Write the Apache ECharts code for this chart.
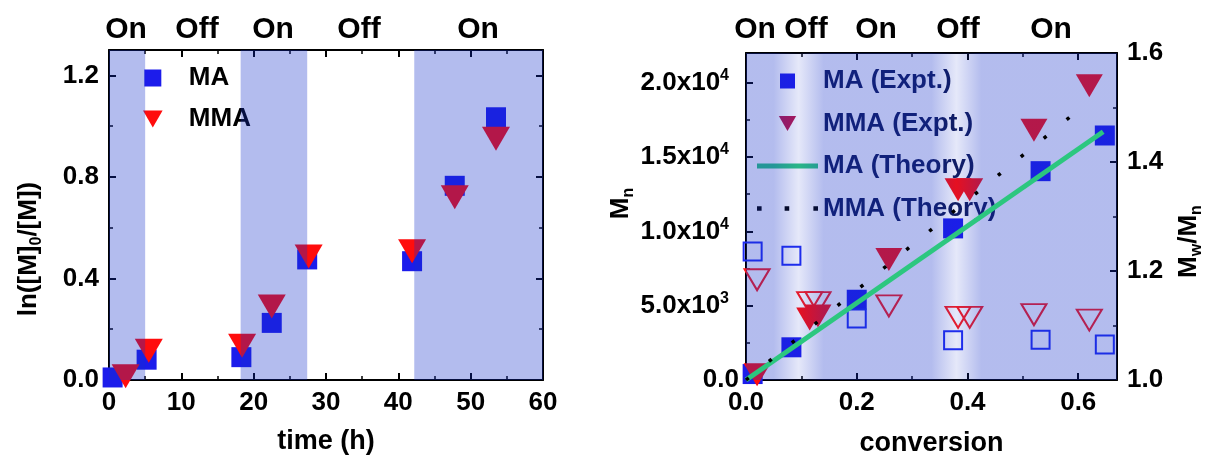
<!DOCTYPE html>
<html>
<head>
<meta charset="utf-8">
<title>ln([M]0/[M]) vs time and Mn vs conversion</title>
<script src="https://cdn.jsdelivr.net/npm/echarts@6/dist/echarts.min.js"></script>
<style>
  html, body { margin: 0; padding: 0; background: #fff; }
  #chart { width: 1213px; height: 462px; }
</style>
</head>
<body>
<div id="chart"></div>
<script>
// ---- left panel: ln([M]0/[M]) vs time (h)
const timeMA = [0.5, 5.2, 18.3, 22.5, 27.4, 41.9, 47.8, 53.5];
const lnMA = [0.01, 0.08, 0.09, 0.225, 0.475, 0.468, 0.765, 1.035];
const timeMMA = [2.3, 5.5, 18.4, 22.5, 27.6, 41.9, 47.8, 53.5];
const lnMMA = [0.015, 0.115, 0.135, 0.29, 0.487, 0.507, 0.72, 0.95];
const onPeriods = [[0, 5], [18.2, 27.4], [42.2, 60]];

// ---- right panel: Mn and Mw/Mn vs conversion
const convMA = [0.012, 0.082, 0.2, 0.374, 0.532, 0.648];
const mnMA = [400, 2200, 5400, 10200, 14050, 16450];
const pdiMA = [1.236, 1.228, 1.113, 1.073, 1.074, 1.065];
const convMMA = [0.02, 0.115, 0.13, 0.258, 0.383, 0.404, 0.52, 0.62];
const mnMMA = [350, 4100, 4300, 8100, 12800, 12800, 16800, 19800];
const pdiMMA = [1.184, 1.142, 1.142, 1.136, 1.115, 1.115, 1.12, 1.11];
const theoryMA = [[0, 0], [0.645, 16700]];
const theoryMMA = [[0, 0], [0.615, 18600]];
const offStripes = [0.095, 0.38]; // centres of the lighter "off" bands

// axis ranges
const timeMax = 60, lnMax = 1.3;
const convMax = 0.67, mnMax = 22000, pdiMin = 1.0, pdiMax = 1.6;

const topLabels = ['On', 'Off', 'On', 'Off', 'On'];
const topLabelX = [126, 197, 273, 359, 478, 755, 806, 876, 958, 1051];

const FONT = 'Liberation Sans';
const shade = 'rgba(20, 47, 202, 0.32)';
const triPath = 'path://M0,0 L10,0 L5,8.66 Z';
const sqPath = 'path://M0,0 L10,0 L10,10 L0,10 Z';
const barPath = 'path://M0,0 L61,0 L61,5 L0,5 Z';
const dotsPath = 'path://M0,0h4v4h-4z M24,0h4v4h-4z M49,0h4v4h-4z';

function onGrid(v, step) {
  return Math.abs(v / step - Math.round(v / step)) < 1e-6;
}

function sci(v) {
  if (v === 0) return '0.0';
  const e = Math.floor(Math.log10(v) + 1e-9);
  return '{n|' + (v / Math.pow(10, e)).toFixed(1) + 'x10}{p|' + e + '}';
}

const labelStyle = {
  color: '#000', fontFamily: FONT, fontWeight: 'bold', fontSize: 26,
};

function axis(extra, showLabel) {
  return Object.assign({
    type: 'value',
    axisLine: { show: true, onZero: false, lineStyle: { color: '#000', width: 2 } },
    axisTick: { show: true, inside: true, length: 7, lineStyle: { color: '#000', width: 2 } },
    minorTick: { show: true, splitNumber: 2, length: 4, lineStyle: { color: '#000', width: 1.5 } },
    splitLine: { show: false },
    axisLabel: Object.assign({ show: showLabel, margin: 10 }, labelStyle),
  }, extra);
}

const bandGradient = (() => {
  const stops = [{ offset: 0, color: shade }];
  offStripes.forEach((c) => {
    stops.push({ offset: (c - 0.045) / convMax, color: shade });
    stops.push({ offset: c / convMax, color: 'rgba(20, 47, 202, 0.11)' });
    stops.push({ offset: (c + 0.045) / convMax, color: shade });
  });
  stops.push({ offset: 1, color: shade });
  return new echarts.graphic.LinearGradient(0, 0, 1, 0, stops);
})();

const chart = echarts.init(document.getElementById('chart'));

const option = {
  animation: false,
  backgroundColor: '#fff',
  grid: [
    { left: 109, right: 670, top: 50, bottom: 82 },
    { left: 746, right: 96, top: 53, bottom: 79 },
  ],
  xAxis: [
    axis({
      gridIndex: 0, min: 0, max: timeMax, interval: 10,
      name: 'time (h)', nameLocation: 'middle', nameGap: 48,
      nameTextStyle: Object.assign({}, labelStyle, { fontSize: 27 }),
    }, true),
    axis({ gridIndex: 0, position: 'top', min: 0, max: timeMax, interval: 10 }, false),
    axis({
      gridIndex: 1, min: 0, max: convMax, interval: 0.2,
      name: 'conversion', nameLocation: 'middle', nameGap: 50,
      nameTextStyle: Object.assign({}, labelStyle, { fontSize: 27 }),
      axisLabel: Object.assign({ margin: 10, formatter: (v) => (onGrid(v, 0.2) ? v.toFixed(1) : '') }, labelStyle),
    }, true),
    axis({ gridIndex: 1, position: 'top', min: 0, max: convMax, interval: 0.2 }, false),
  ],
  yAxis: [
    axis({
      gridIndex: 0, min: 0, max: lnMax, interval: 0.4,
      name: '{t|ln([M]}{s|0}{t|/[M])}', nameLocation: 'middle', nameGap: 64,
      nameTextStyle: {
        padding: [0, 68, 0, 0],
        rich: {
          t: Object.assign({}, labelStyle, { fontSize: 26, lineHeight: 32 }),
          s: Object.assign({}, labelStyle, { fontSize: 16, lineHeight: 10, verticalAlign: 'bottom' }),
        },
      },
      axisLabel: Object.assign({ margin: 10, formatter: (v) => (onGrid(v, 0.4) ? v.toFixed(1) : '') }, labelStyle),
    }, true),
    axis({ gridIndex: 0, position: 'right', min: 0, max: lnMax, interval: 0.4 }, false),
    axis({
      gridIndex: 1, min: 0, max: mnMax, interval: 5000,
      name: '{t|M}{s|n}', nameLocation: 'middle', nameGap: 108,
      nameTextStyle: {
        padding: [0, 0, 0, 26],
        rich: {
          t: Object.assign({}, labelStyle, { fontSize: 26, lineHeight: 32 }),
          s: Object.assign({}, labelStyle, { fontSize: 16, lineHeight: 10, verticalAlign: 'bottom' }),
        },
      },
      axisLabel: Object.assign({
        margin: 7,
        formatter: (v) => (onGrid(v, 5000) ? sci(v) : ''),
        rich: {
          n: Object.assign({}, labelStyle, { lineHeight: 30 }),
          p: Object.assign({}, labelStyle, { fontSize: 16, lineHeight: 16, verticalAlign: 'top', padding: [0, 10, 0, 0] }),
        },
      }, labelStyle),
    }, true),
    axis({
      gridIndex: 1, position: 'right', min: pdiMin, max: pdiMax, interval: 0.2,
      name: '{t|M}{s|w}{t|/M}{s|n}', nameLocation: 'middle', nameGap: 56,
      nameTextStyle: {
        padding: [0, 50, 0, 0],
        rich: {
          t: Object.assign({}, labelStyle, { fontSize: 26, lineHeight: 32 }),
          s: Object.assign({}, labelStyle, { fontSize: 16, lineHeight: 10, verticalAlign: 'bottom' }),
        },
      },
      axisLabel: Object.assign({ margin: 10, formatter: (v) => v.toFixed(1) }, labelStyle),
    }, true),
  ],
  legend: [
    {
      left: 138, top: 60, orient: 'vertical',
      itemWidth: 22, itemHeight: 17, itemGap: 15,
      data: [
        { name: 'MA', icon: sqPath },
        { name: 'MMA', icon: triPath },
      ],
      textStyle: Object.assign({}, labelStyle, { padding: [0, 0, 0, 20] }),
    },
    {
      left: 752, top: 63, orient: 'vertical',
      itemWidth: 61, itemHeight: 15, itemGap: 16.5,
      data: [
        { name: 'MA (Expt.)', icon: sqPath },
        { name: 'MMA (Expt.)', icon: triPath, itemStyle: { color: '#b8154c' } },
        { name: 'MA (Theory)', icon: barPath },
        { name: 'MMA (Theory)', icon: dotsPath },
      ],
      textStyle: Object.assign({}, labelStyle, { color: '#0f1a56' }),
    },
  ],
  graphic: topLabels.concat(topLabels).map((t, i) => ({
    type: 'text',
    style: {
      text: t, x: topLabelX[i], y: 30,
      font: 'bold 30px "' + FONT + '"',
      textAlign: 'center', textVerticalAlign: 'middle', fill: '#000',
    },
  })),
  series: [
    // left panel
    {
      name: 'MA', type: 'scatter', xAxisIndex: 0, yAxisIndex: 0, z: 2,
      symbol: 'rect', symbolSize: 20,
      itemStyle: { color: '#1c1ceb', opacity: 1 },
      data: timeMA.map((t, i) => [t, lnMA[i]]),
    },
    {
      name: 'MMA', type: 'scatter', xAxisIndex: 0, yAxisIndex: 0, z: 3,
      symbol: triPath, symbolSize: [28, 24],
      itemStyle: { color: '#ff0d0d', opacity: 1 },
      data: timeMMA.map((t, i) => [t, lnMMA[i]]),
    },
    {
      name: 'onShade', type: 'scatter', xAxisIndex: 0, yAxisIndex: 0, z: 4,
      silent: true, data: [],
      markArea: {
        z: 4,
        silent: true,
        itemStyle: { color: shade },
        data: onPeriods.map((p) => [{ xAxis: p[0] }, { xAxis: p[1] }]),
      },
    },
    // right panel
    {
      name: 'MA (Expt.)', type: 'scatter', xAxisIndex: 2, yAxisIndex: 2, z: 2,
      symbol: 'rect', symbolSize: 20,
      itemStyle: { color: '#1c1ceb', opacity: 1 },
      data: convMA.map((c, i) => [c, mnMA[i]]),
    },
    {
      name: 'MA PDI', type: 'scatter', xAxisIndex: 2, yAxisIndex: 3, z: 2,
      symbol: 'rect', symbolSize: 18,
      itemStyle: { color: 'none', borderColor: '#1f2cf2', borderWidth: 2, opacity: 1 },
      data: convMA.map((c, i) => [c, pdiMA[i]]),
    },
    {
      name: 'MMA PDI', type: 'scatter', xAxisIndex: 2, yAxisIndex: 3, z: 3,
      symbol: triPath, symbolSize: [25, 21],
      itemStyle: { color: 'none', borderColor: '#ff1a1a', borderWidth: 2, opacity: 1 },
      data: convMMA.map((c, i) => [c, pdiMMA[i]]),
    },
    {
      name: 'MMA (Expt.)', type: 'scatter', xAxisIndex: 2, yAxisIndex: 2, z: 3,
      symbol: triPath, symbolSize: [27, 23],
      itemStyle: { color: '#ff0d0d', opacity: 1 },
      data: convMMA.map((c, i) => [c, mnMMA[i]]),
    },
    {
      name: 'offShade', type: 'scatter', xAxisIndex: 2, yAxisIndex: 2, z: 4,
      silent: true, data: [],
      markArea: {
        z: 4,
        silent: true,
        itemStyle: { color: bandGradient },
        data: [[{ xAxis: 0 }, { xAxis: convMax }]],
      },
    },
    {
      name: 'MA (Theory)', type: 'line', xAxisIndex: 2, yAxisIndex: 2, z: 5,
      symbol: 'none', color: '#2cc77f',
      lineStyle: { color: '#2cc77f', width: 5 },
      data: theoryMA,
    },
    {
      name: 'MMA (Theory)', type: 'line', xAxisIndex: 2, yAxisIndex: 2, z: 5,
      symbol: 'none', color: '#000',
      lineStyle: { color: '#000', width: 3.5, type: [3.5, 26] },
      data: theoryMMA,
    },
  ],
};

chart.setOption(option);
</script>
</body>
</html>
